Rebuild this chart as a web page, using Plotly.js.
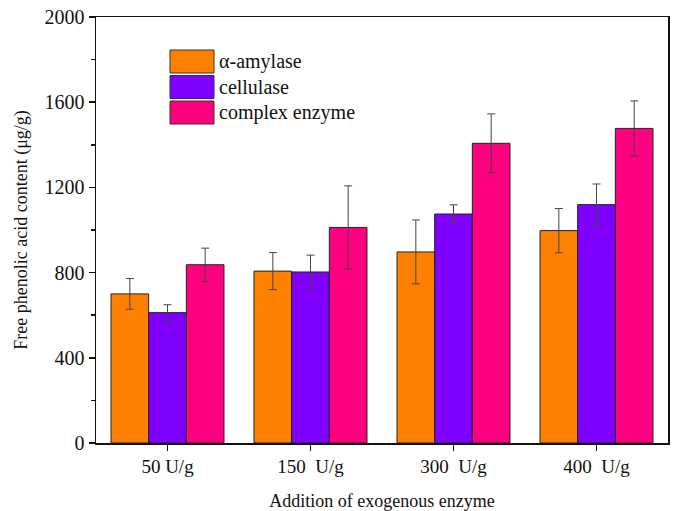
<!DOCTYPE html>
<html>
<head>
<meta charset="utf-8">
<script src="https://cdn.plot.ly/plotly-3.0.1.min.js"></script>
<style>html,body{margin:0;padding:0;background:#fff;}#chart{width:676px;height:511px;}</style>
</head>
<body>
<div id="chart"></div>
<script>
const categories = ["50 U/g", "150\u00a0 U/g", "300\u00a0 U/g", "400\u00a0 U/g"];
const seriesNames = ["\u03b1-amylase", "cellulase", "complex enzyme"];
const amylase = [700, 807, 897, 997];
const amylaseErr = [72, 87, 150, 104];
const cellulase = [612, 803, 1075, 1119];
const cellulaseErr = [37, 79, 43, 97];
const complexEnz = [837, 1012, 1407, 1477];
const complexErr = [78, 195, 138, 129];
const colors = ["#FF8000", "#8000FF", "#FF0080"];

const values = [amylase, cellulase, complexEnz];
const errs = [amylaseErr, cellulaseErr, complexErr];
const font = "Liberation Serif, Times New Roman, serif";

const traces = values.map((v, i) => ({
  type: "bar",
  x: categories,
  y: v,
  name: seriesNames[i],
  marker: {color: colors[i], line: {color: "#222", width: 1}},
  error_y: {type: "data", array: errs[i], visible: true, color: "#444", thickness: 1, width: 4},
  showlegend: false
}));

// custom legend with large swatches
const shapes = [];
const annotations = [];
const lx0 = 170, lw = 44, lh = 23, ly0 = 50, lstep = 25.5;
seriesNames.forEach((n, i) => {
  const y = ly0 + i * lstep;
  shapes.push({type: "rect", xref: "paper", yref: "paper",
    x0: (lx0 - 96) / 572, x1: (lx0 + lw - 96) / 572,
    y0: 1 - (y + lh - 17) / 426, y1: 1 - (y - 17) / 426,
    fillcolor: colors[i], line: {color: "#333", width: 1}});
  annotations.push({xref: "paper", yref: "paper", x: (lx0 + lw + 3 - 96) / 572,
    y: 1 - (y + lh / 2 - 17) / 426, xanchor: "left", yanchor: "middle",
    text: n, showarrow: false, font: {family: font, size: 20, color: "#111"}});
});

const layout = {
  width: 676, height: 511,
  margin: {l: 96, r: 8, t: 17, b: 68},
  paper_bgcolor: "#fff", plot_bgcolor: "#fff",
  barmode: "group", bargap: 0.21, bargroupgap: 0,
  font: {family: font, size: 18, color: "#111"},
  xaxis: {
    range: [-0.5, 3.5], showline: true, mirror: true, linecolor: "#111", linewidth: 1.5,
    ticks: "outside", ticklen: 6, tickwidth: 1.5, tickcolor: "#111",
    showgrid: false, zeroline: false,
    tickfont: {family: font, size: 19, color: "#111"},
    minor: {ticks: "outside", ticklen: 4, tickwidth: 1.5, tickcolor: "#111", showgrid: false},
    title: {text: "Addition of exogenous enzyme", font: {family: font, size: 18, color: "#111"}, standoff: 18}
  },
  yaxis: {
    range: [0, 2000], tickvals: [0, 400, 800, 1200, 1600, 2000],
    showline: true, mirror: true, linecolor: "#111", linewidth: 1.5,
    ticks: "outside", ticklen: 6, tickwidth: 1.5, tickcolor: "#111",
    showgrid: false, zeroline: false,
    tickfont: {family: font, size: 20, color: "#111"},
    minor: {tickvals: [200, 600, 1000, 1400, 1800], ticks: "outside", ticklen: 4, tickwidth: 1.5, tickcolor: "#111", showgrid: false},
    title: {text: "Free phenolic acid content (\u03bcg/g)", font: {family: font, size: 18, color: "#111"}, standoff: 12}
  },
  shapes: shapes,
  annotations: annotations
};

Plotly.newPlot("chart", traces, layout, {displayModeBar: false, staticPlot: true});
</script>
</body>
</html>
